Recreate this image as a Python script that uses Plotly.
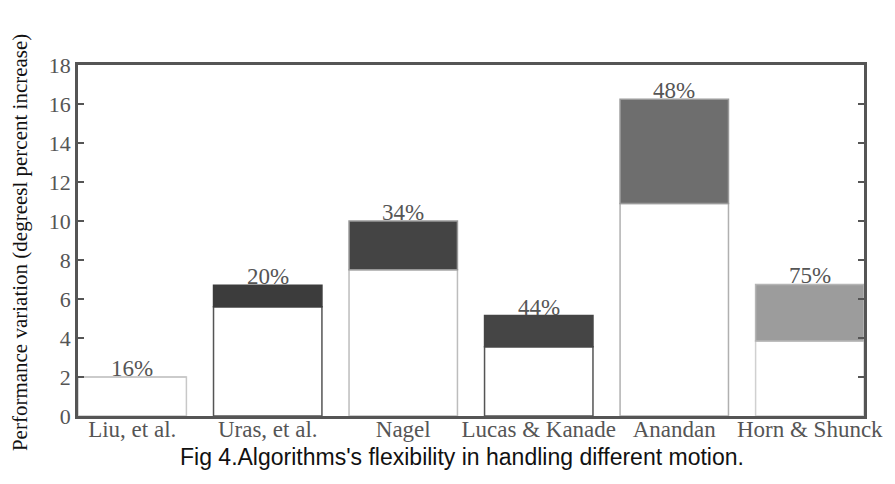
import plotly.graph_objects as go

categories = ["Liu, et al.", "Uras, et al.", "Nagel", "Lucas & Kanade", "Anandan", "Horn & Shunck"]
base_values = [2.0, 5.6, 7.5, 3.55, 10.9, 3.85]
top_values = [2.0, 6.7, 10.0, 5.15, 16.25, 6.75]
percent_labels = ["16%", "20%", "34%", "44%", "48%", "75%"]
y_ticks = [0, 2, 4, 6, 8, 10, 12, 14, 16, 18]

increments = [t - b for t, b in zip(top_values, base_values)]
top_colors = ["#ffffff", "#3c3c3c", "#444444", "#454545", "#6e6e6e", "#9c9c9c"]
base_line_colors = ["#c8c8c8", "#555555", "#bdbdbd", "#555555", "#b0b0b0", "#d0d0d0"]
top_line_colors = ["#c8c8c8", "#3c3c3c", "#999999", "#454545", "#9a9a9a", "#b5b5b5"]

serif = "Liberation Serif, Times New Roman, serif"

fig = go.Figure()
fig.add_trace(go.Bar(
    x=categories, y=base_values, width=0.8,
    marker=dict(color="#ffffff", line=dict(color=base_line_colors, width=1.5)),
    showlegend=False, hoverinfo="skip"))
fig.add_trace(go.Bar(
    x=categories, y=increments, base=base_values, width=0.8,
    marker=dict(color=top_colors, line=dict(color=top_line_colors, width=1.5)),
    showlegend=False, hoverinfo="skip"))

for c, t, p in zip(categories, top_values, percent_labels):
    fig.add_annotation(x=c, y=t, text=p, showarrow=False, yanchor="bottom",
                       yshift=-6, font=dict(family=serif, size=23, color="#555555"))

fig.add_annotation(xref="paper", yref="paper", x=-0.074, y=0.495,
                   text="Performance variation (degreesl percent increase)",
                   textangle=-90, showarrow=False, xanchor="center", yanchor="middle",
                   font=dict(family=serif, size=21, color="#111111"))
fig.add_annotation(xref="paper", yref="paper", x=0.489, y=-0.117,
                   text="Fig 4.Algorithms's flexibility in handling different motion.",
                   showarrow=False, xanchor="center", yanchor="middle",
                   font=dict(family="Liberation Sans, Arial, sans-serif", size=23, color="#111111"))

fig.update_layout(
    barmode="overlay",
    width=887, height=476,
    margin=dict(l=70, r=29, t=57, b=68),
    paper_bgcolor="white", plot_bgcolor="white",
    xaxis=dict(range=[-0.4, 5.4], showline=True, linecolor="#555555", linewidth=2.5,
               mirror=True, ticks="", showgrid=False, zeroline=False,
               ticklabelstandoff=-9,
               tickfont=dict(family=serif, size=23, color="#555555")),
    yaxis=dict(range=[0, 18], tickvals=y_ticks, showline=True, linecolor="#555555",
               linewidth=2.5, mirror="allticks", ticks="inside", ticklen=6,
               tickwidth=2, tickcolor="#555555", showgrid=False, zeroline=False,
               tickfont=dict(family=serif, size=22, color="#555555")),
)

fig.write_html("out.html")
